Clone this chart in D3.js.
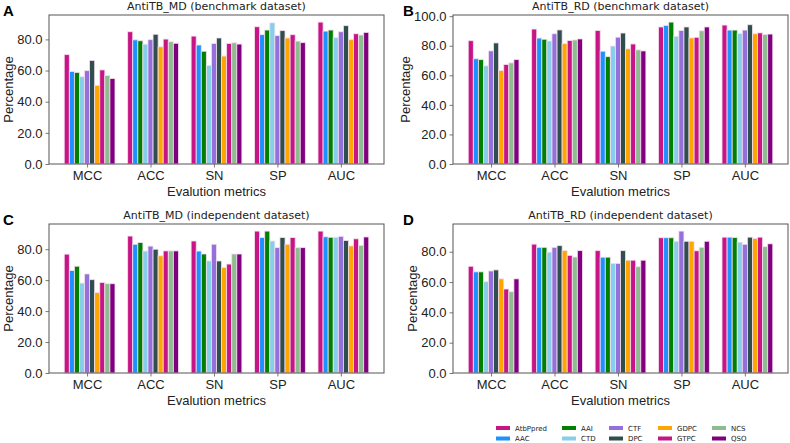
<!DOCTYPE html>
<html>
<head>
<meta charset="utf-8">
<script src="https://cdn.jsdelivr.net/npm/d3@7"></script>
<style>
  body { margin: 0; background: #fff; }
  svg { display: block; font-family: "DejaVu Sans", sans-serif; }
</style>
</head>
<body>
<svg id="chart" width="790" height="443"></svg>
<script>
// ---------- data ----------
const metrics = ["MCC", "ACC", "SN", "SP", "AUC"];
const models = ["AtbPpred", "AAC", "AAI", "CTD", "CTF", "DPC", "GDPC", "GTPC", "NCS", "QSO"];
const modelColors = ["#C71585", "#1E90FF", "#008000", "#87CEEB", "#9370DB", "#2F4F4F", "#FFA500", "#C71585", "#8FBC8F", "#800080"];
const yTickValues = [0, 20, 40, 60, 80, 100];

// values per metric (rows) for each model (columns, same order as models)
const mdBenchmark = [
  [70.2, 59.4, 58.8, 56.0, 59.9, 66.5, 50.5, 60.4, 56.8, 54.9],
  [84.9, 79.7, 79.1, 76.9, 79.8, 83.3, 75.2, 80.2, 78.5, 77.5],
  [82.1, 76.4, 72.4, 63.2, 77.4, 80.9, 69.3, 77.4, 77.8, 77.0],
  [88.1, 83.0, 86.0, 90.6, 82.4, 85.6, 80.9, 83.0, 78.9, 77.9],
  [91.1, 85.3, 86.0, 81.1, 84.9, 88.8, 79.8, 83.6, 82.8, 84.5]
];
const rdBenchmark = [
  [83.4, 71.2, 70.6, 66.4, 76.5, 81.9, 63.2, 67.3, 68.4, 70.6],
  [91.3, 85.2, 84.4, 83.2, 88.1, 90.7, 81.4, 83.5, 83.9, 84.6],
  [90.3, 76.3, 72.6, 79.8, 85.8, 88.6, 77.9, 81.2, 77.2, 76.5],
  [92.7, 93.8, 96.0, 86.4, 90.3, 92.7, 85.3, 85.7, 90.1, 92.7],
  [94.0, 90.6, 90.6, 88.2, 90.6, 94.2, 88.1, 88.7, 87.7, 87.9]
];
const mdIndependent = [
  [76.8, 66.2, 69.0, 58.1, 64.0, 60.3, 51.9, 58.5, 57.7, 57.7],
  [88.5, 83.2, 84.3, 78.8, 82.0, 80.0, 75.7, 78.9, 78.9, 78.9],
  [85.3, 78.8, 76.9, 72.4, 83.2, 72.4, 68.2, 70.4, 76.9, 76.9],
  [91.7, 87.5, 91.7, 85.3, 81.0, 87.5, 83.2, 87.5, 81.0, 81.0],
  [91.7, 88.0, 87.7, 87.7, 88.3, 85.6, 82.1, 86.7, 82.5, 87.9]
];
const rdIndependent = [
  [70.4, 66.7, 66.7, 60.2, 67.3, 68.0, 62.1, 55.4, 53.6, 62.1],
  [85.0, 82.9, 82.9, 79.7, 82.9, 84.0, 80.7, 77.6, 76.5, 80.7],
  [80.7, 76.4, 76.4, 72.3, 72.3, 80.7, 74.4, 74.4, 70.1, 74.4],
  [89.2, 89.2, 89.2, 86.9, 93.6, 86.9, 86.9, 80.6, 82.9, 86.9],
  [89.6, 89.6, 89.3, 86.3, 84.9, 89.6, 88.8, 89.6, 83.3, 85.2]
];

const panelLetters = ["A", "B", "C", "D"];
const panelTitles = [
  "AntiTB_MD (benchmark dataset)",
  "AntiTB_RD (benchmark dataset)",
  "AntiTB_MD (independent dataset)",
  "AntiTB_RD (independent dataset)"
];
const panelData = [mdBenchmark, rdBenchmark, mdIndependent, rdIndependent];
const xLabel = "Evalution metrics";
const yLabel = "Percentage";

// ---------- layout ----------
const svg = d3.select("#chart");
const boxes = [
  { left: 49, right: 384, top: 15, bottom: 164 },
  { left: 453, right: 788, top: 15, bottom: 164 },
  { left: 49, right: 384, top: 224, bottom: 373 },
  { left: 453, right: 788, top: 224, bottom: 373 }
];
const barW = 0.08;
const nM = models.length;
const dataMin = -4 * barW - barW / 2;
const dataMax = (metrics.length - 1) + (nM - 5) * barW + barW / 2;
const xMargin = 0.05 * (dataMax - dataMin);
const spineColor = "#555";
const textColor = "#222";
const axisFont = "Liberation Sans, Arial, sans-serif";

panelData.forEach((data, p) => {
  const b = boxes[p];
  const g = svg.append("g");
  const x = d3.scaleLinear().domain([dataMin - xMargin, dataMax + xMargin]).range([b.left, b.right]);
  const maxV = d3.max(data, r => d3.max(r));
  const y = d3.scaleLinear().domain([0, maxV * 1.05]).range([b.bottom, b.top]);

  // bars
  data.forEach((row, mi) => {
    row.forEach((v, k) => {
      const cx = mi + (k - 4) * barW;
      g.append("rect")
        .attr("x", x(cx - barW / 2))
        .attr("width", x(cx + barW / 2) - x(cx - barW / 2))
        .attr("y", y(v))
        .attr("height", y(0) - y(v))
        .attr("fill", modelColors[k])
        .attr("stroke", "#f4dfef")
        .attr("stroke-width", 0.8);
    });
  });

  // axes
  const yTicks = yTickValues.filter(t => t <= y.domain()[1]);
  const yAxis = d3.axisLeft(y).tickValues(yTicks).tickFormat(d3.format(".1f")).tickSize(3.5).tickPadding(3);
  const xAxis = d3.axisBottom(x).tickValues(d3.range(metrics.length)).tickFormat(i => metrics[i]).tickSize(3.5).tickPadding(3);

  const ya = g.append("g").attr("transform", `translate(${b.left},0)`).call(yAxis);
  const xa = g.append("g").attr("transform", `translate(0,${b.bottom})`).call(xAxis);
  [ya, xa].forEach(a => {
    a.select(".domain").remove();
    a.attr("font-family", axisFont).attr("font-size", 13);
    a.selectAll(".tick line").attr("stroke", spineColor).attr("stroke-width", 0.8);
    a.selectAll(".tick text").attr("fill", textColor);
  });
  xa.selectAll(".tick text").attr("dy", null).attr("y", 16);

  // frame
  g.append("rect")
    .attr("x", b.left).attr("y", b.top)
    .attr("width", b.right - b.left).attr("height", b.bottom - b.top)
    .attr("fill", "none").attr("stroke", spineColor).attr("stroke-width", 1);

  // title
  g.append("text")
    .attr("x", (b.left + b.right) / 2).attr("y", b.top - 5.5)
    .attr("text-anchor", "middle").attr("font-size", 11).attr("fill", textColor)
    .text(panelTitles[p]);

  // x label
  g.append("text")
    .attr("x", (b.left + b.right) / 2).attr("y", b.bottom + 32)
    .attr("text-anchor", "middle").attr("font-size", 13).attr("fill", textColor)
    .attr("font-family", axisFont)
    .text(xLabel);

  // y label
  let maxW = 0;
  ya.selectAll(".tick text").each(function () { maxW = Math.max(maxW, this.getComputedTextLength()); });
  const ylx = b.left - 3.5 - 3 - maxW - 4;
  g.append("text")
    .attr("transform", `translate(${ylx},${(b.top + b.bottom) / 2}) rotate(-90)`)
    .attr("text-anchor", "middle").attr("font-size", 13).attr("fill", textColor)
    .attr("font-family", axisFont)
    .text(yLabel);

  // panel letter
  g.append("text")
    .attr("x", p % 2 === 0 ? 3 : 403).attr("y", b.top + 1)
    .attr("font-size", 15).attr("font-weight", "bold").attr("fill", "#000")
    .attr("font-family", axisFont)
    .text(panelLetters[p]);
});

// ---------- legend ----------
const legendCols = [496, 562, 609, 658, 712];
const legendRows = [428, 438.5];
const leg = svg.append("g");
models.forEach((m, k) => {
  const col = Math.floor(k / 2), row = k % 2;
  leg.append("rect")
    .attr("x", legendCols[col]).attr("y", legendRows[row] - 2)
    .attr("width", 14).attr("height", 4)
    .attr("fill", modelColors[k]);
  leg.append("text")
    .attr("x", legendCols[col] + 19).attr("y", legendRows[row] + 2.5)
    .attr("font-size", 7).attr("fill", textColor)
    .text(m);
});
</script>
</body>
</html>
